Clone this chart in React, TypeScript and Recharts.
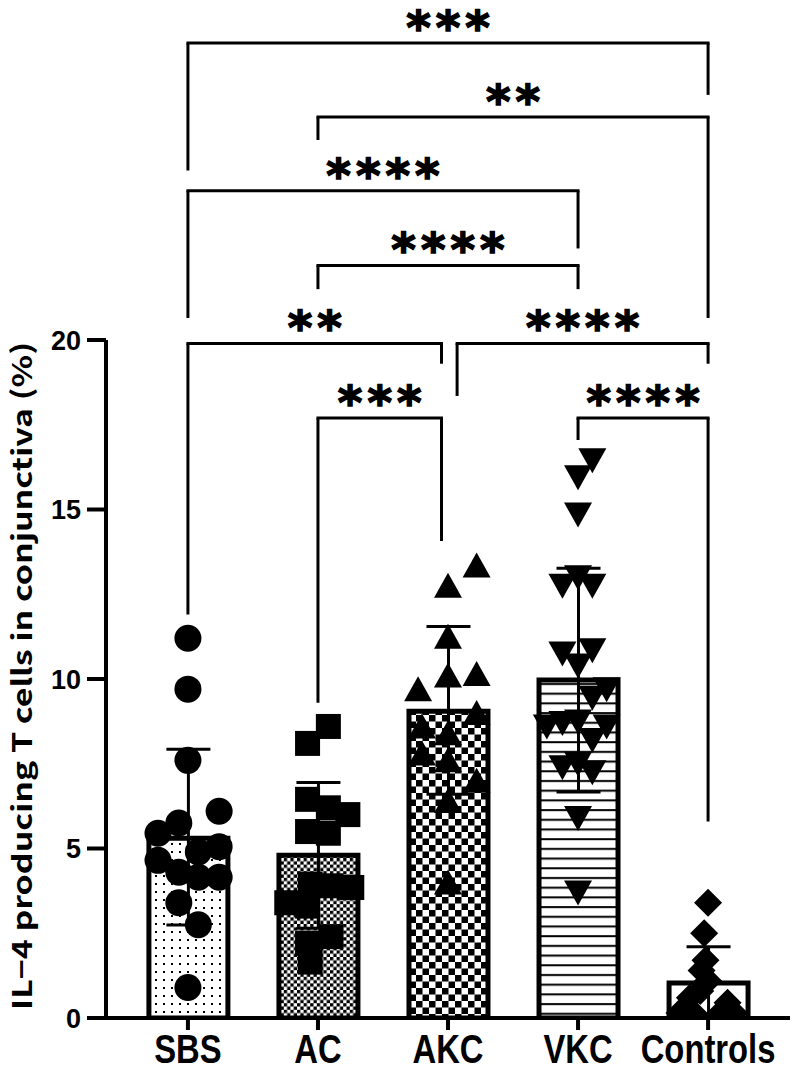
import React from 'react';
import { ComposedChart, Bar, Cell, ErrorBar, Scatter, XAxis, YAxis, ReferenceLine } from 'recharts';

// groups and summary values (mean, lower / upper error)
const groups = ['SBS', 'AC', 'AKC', 'VKC', 'Controls'];
const means = [5.3, 4.8, 9.05, 9.97, 1.03];
const errLow = [2.56, 2.15, 2.45, 3.3, 1.03];
const errHigh = [2.63, 2.15, 2.5, 3.3, 1.07];
const yTicks = [0, 5, 10, 15, 20];

// individual points (value + horizontal jitter within the group)
const sbsValues = [11.2, 9.7, 7.6, 6.1, 5.75, 5.45, 5.05, 4.9, 4.65, 4.3, 4.15, 4.15, 3.4, 2.75, 0.9];
const sbsJitter = [0, 0, 0, 0.24, -0.07, -0.23, 0.24, 0.08, -0.23, -0.07, 0.08, 0.24, -0.07, 0.08, 0];
const acValues = [8.6, 8.1, 6.45, 6.2, 6.0, 5.5, 5.45, 3.95, 3.9, 3.85, 3.4, 3.3, 2.4, 2.2, 1.65];
const acJitter = [0.08, -0.08, -0.08, 0.08, 0.23, -0.08, 0.08, -0.06, 0.1, 0.26, -0.24, -0.08, 0.1, -0.08, -0.06];
const akcValues = [13.35, 12.75, 11.25, 10.15, 10.1, 9.7, 9.0, 8.6, 8.4, 7.8, 7.6, 7.0, 6.4, 4.0];
const akcJitter = [0.22, 0, 0, 0.22, 0, -0.23, 0.22, -0.2, 0, -0.2, 0, 0.22, 0, 0];
const vkcValues = [16.45, 15.95, 14.85, 13.0, 12.75, 12.75, 10.85, 10.75, 10.4, 9.7, 9.45, 8.75, 8.7, 8.6, 8.6, 8.2, 7.5, 7.4, 7.25, 5.9, 3.7];
const vkcJitter = [0.11, 0, 0, 0, -0.12, 0.11, 0.11, -0.12, 0, 0.22, 0.11, 0, -0.12, -0.24, 0.22, 0.11, 0, -0.12, 0.11, 0, 0];
const ctrlValues = [3.4, 2.5, 1.7, 1.4, 1.1, 0.8, 0.6, 0.45, 0.15, 0.15, 0.05, 0.1];
const ctrlJitter = [0, -0.03, -0.02, -0.05, 0, -0.06, -0.14, 0.15, -0.22, 0.2, 0.07, -0.1];

// significance brackets: left/right leg position, bar level, leg ends, stars
const bracketLeft = [0, 1, 0, 1, 0, 2.07, 1, 3];
const bracketRight = [4, 4, 3, 3, 1.95, 4, 1.95, 4];
const bracketLevel = [28.76, 26.58, 24.4, 22.2, 19.9, 19.9, 17.7, 17.7];
const bracketLeftEnd = [25.0, 25.9, 20.65, 21.5, 11.9, 18.35, 9.3, 17.05];
const bracketRightEnd = [27.23, 20.65, 22.7, 21.5, 19.3, 19.3, 14.07, 5.8];
const bracketStars = ['***', '**', '****', '****', '**', '****', '***', '****'];

const barData = groups.map((name, i) => ({ x: i, name, mean: means[i], err: [errLow[i], errHigh[i]] }));
const toPoints = (g: number, vals: number[], jit: number[]) => vals.map((y, i) => ({ x: g + jit[i], y }));

const fills = ['url(#dots)', 'url(#fineCheck)', 'url(#bigCheck)', 'url(#hLines)', '#fff'];

const Circle = ({ cx, cy }: any) => <circle cx={cx} cy={cy} r={13.5} fill="#000" />;
const Square = ({ cx, cy }: any) => <rect x={cx - 12.5} y={cy - 12.5} width={25} height={25} fill="#000" />;
const TriUp = ({ cx, cy }: any) => (
  <polygon points={`${cx},${cy - 13} ${cx + 14},${cy + 12} ${cx - 14},${cy + 12}`} fill="#000" />
);
const TriDown = ({ cx, cy }: any) => (
  <polygon points={`${cx - 14},${cy - 12} ${cx + 14},${cy - 12} ${cx},${cy + 13}`} fill="#000" />
);
const Diamond = ({ cx, cy }: any) => (
  <polygon points={`${cx},${cy - 14} ${cx + 14},${cy} ${cx},${cy + 14} ${cx - 14},${cy}`} fill="#000" />
);

const XTick = ({ x, y, payload }: any) => (
  <text
    transform={`translate(${x},${y + 31}) scale(0.82,1)`}
    textAnchor="middle"
    fontFamily="'Liberation Sans', Arial, sans-serif"
    fontWeight="bold"
    fontSize={40}
    fill="#000"
  >
    {groups[payload.value]}
  </text>
);

// asterisks centred above a bracket
const Stars = (text: string) => ({ viewBox }: any) => (
  <text
    x={viewBox.x + viewBox.width / 2 + 2.5}
    y={viewBox.y + 1}
    textAnchor="middle"
    fontFamily="'DejaVu Sans', sans-serif"
    fontWeight="bold"
    fontSize={47}
    letterSpacing={5}
    stroke="#000"
    strokeWidth={1.5}
    fill="#000"
  >
    {text}
  </text>
);

const YTitle = () => (
  <text
    transform="translate(32,676) rotate(-90)"
    textAnchor="middle"
    fontFamily="'Noto Sans CJK JP', sans-serif"
    fontWeight="bold"
    fontSize={27}
    textLength={668}
    lengthAdjust="spacingAndGlyphs"
    fill="#000"
  >
    IL−4 producing T cells in conjunctiva (%)
  </text>
);

const line = { stroke: '#000', strokeWidth: 3 };

export default function App() {
  return (
    <div style={{ position: 'absolute', left: 0, top: 0, width: 800, height: 1078, background: '#fff' }}>
      <ComposedChart width={800} height={1078} data={barData} margin={{ top: 340, right: 10, bottom: 0, left: 0 }}>
        <defs>
          <pattern id="dots" width="8" height="8" patternUnits="userSpaceOnUse">
            <rect width="8" height="8" fill="#fff" />
            <rect x="3" y="3" width="2" height="2" fill="#000" />
          </pattern>
          <pattern id="fineCheck" width="6.6" height="6.6" patternUnits="userSpaceOnUse">
            <rect width="6.6" height="6.6" fill="#fff" />
            <rect width="3.3" height="3.3" fill="#000" />
            <rect x="3.3" y="3.3" width="3.3" height="3.3" fill="#000" />
          </pattern>
          <pattern id="bigCheck" width="13" height="13" patternUnits="userSpaceOnUse">
            <rect width="13" height="13" fill="#fff" />
            <rect width="6.5" height="6.5" fill="#000" />
            <rect x="6.5" y="6.5" width="6.5" height="6.5" fill="#000" />
          </pattern>
          <pattern id="hLines" width="10" height="9.7" patternUnits="userSpaceOnUse">
            <rect width="10" height="9.7" fill="#fff" />
            <rect y="4" width="10" height="2" fill="#000" />
          </pattern>
        </defs>
        <XAxis
          type="number"
          dataKey="x"
          domain={[-0.63, 4.63]}
          ticks={[0, 1, 2, 3, 4]}
          interval={0}
          allowDataOverflow
          height={60}
          tickSize={12}
          axisLine={{ stroke: '#000', strokeWidth: 4 }}
          tickLine={{ stroke: '#000', strokeWidth: 4 }}
          tick={<XTick />}
        />
        <YAxis
          type="number"
          domain={[0, 20]}
          ticks={yTicks}
          interval={0}
          allowDataOverflow
          width={106}
          tickSize={19}
          tickMargin={6}
          axisLine={{ stroke: '#000', strokeWidth: 4 }}
          tickLine={{ stroke: '#000', strokeWidth: 4 }}
          tick={{ fill: '#000', fontSize: 27, fontWeight: 'bold', fontFamily: "'Liberation Sans', Arial, sans-serif" }}
          label={{ content: () => <YTitle /> }}
        />
        <XAxis xAxisId="pts" type="number" dataKey="x" domain={[-0.63, 4.63]} allowDataOverflow hide />
        <YAxis yAxisId="pts" type="number" dataKey="y" domain={[0, 20]} allowDataOverflow hide />

        <Bar dataKey="mean" barSize={79} stroke="#000" strokeWidth={5} isAnimationActive={false}>
          {barData.map((d, i) => (
            <Cell key={`bar-${d.name}`} fill={fills[i]} />
          ))}
          <ErrorBar dataKey="err" width={22} stroke="#000" strokeWidth={3} direction="y" />
        </Bar>

        <Scatter xAxisId="pts" yAxisId="pts" data={toPoints(0, sbsValues, sbsJitter)} shape={<Circle />} isAnimationActive={false} />
        <Scatter xAxisId="pts" yAxisId="pts" data={toPoints(1, acValues, acJitter)} shape={<Square />} isAnimationActive={false} />
        <Scatter xAxisId="pts" yAxisId="pts" data={toPoints(2, akcValues, akcJitter)} shape={<TriUp />} isAnimationActive={false} />
        <Scatter xAxisId="pts" yAxisId="pts" data={toPoints(3, vkcValues, vkcJitter)} shape={<TriDown />} isAnimationActive={false} />
        <Scatter xAxisId="pts" yAxisId="pts" data={toPoints(4, ctrlValues, ctrlJitter)} shape={<Diamond />} isAnimationActive={false} />

        {bracketLevel.map((lvl, i) => (
          <ReferenceLine
            key={`bh-${i}`}
            segment={[{ x: bracketLeft[i], y: lvl }, { x: bracketRight[i], y: lvl }]}
            ifOverflow="visible"
            {...line}
            strokeLinecap="square"
            label={{ content: Stars(bracketStars[i]) }}
          />
        ))}
        {bracketLevel.map((lvl, i) => (
          <ReferenceLine
            key={`bl-${i}`}
            segment={[{ x: bracketLeft[i], y: lvl }, { x: bracketLeft[i], y: bracketLeftEnd[i] }]}
            ifOverflow="visible"
            {...line}
          />
        ))}
        {bracketLevel.map((lvl, i) => (
          <ReferenceLine
            key={`br-${i}`}
            segment={[{ x: bracketRight[i], y: lvl }, { x: bracketRight[i], y: bracketRightEnd[i] }]}
            ifOverflow="visible"
            {...line}
          />
        ))}
      </ComposedChart>
    </div>
  );
}
